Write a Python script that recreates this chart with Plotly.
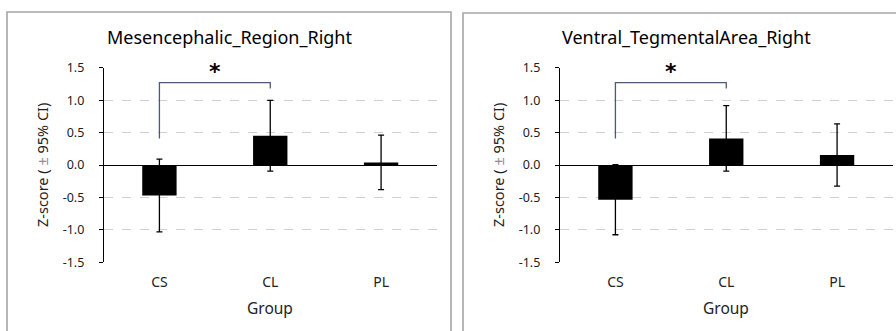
import plotly.graph_objects as go

W, H = 896, 331

groups = ["CS", "CL", "PL"]
titles = ["Mesencephalic_Region_Right", "Ventral_TegmentalArea_Right"]
means_left = [-0.47, 0.45, 0.04]
ci_left = [0.56, 0.545, 0.42]
means_right = [-0.535, 0.41, 0.155]
ci_right = [0.54, 0.505, 0.48]
bracket_y = [0.41, 1.27, 1.27, 1.18]
ytick_vals = [-1.5, -1.0, -0.5, 0.0, 0.5, 1.0, 1.5]
ytick_text = ["-1.5", "-1.0", "-0.5", "0.0", "0.5", "1.0", "1.5"]

FONT = "Noto Sans"

def px(x):
    return x / W

def py(y):
    return 1 - y / H

fig = go.Figure()

panels = [
    dict(means=means_left, ci=ci_left, xa="x", ya="y", xl=104, xr=436.5, box=(7, 12, 451, 340), tcx=230, ytx=42),
    dict(means=means_right, ci=ci_right, xa="x2", ya="y2", xl=560, xr=892.5, box=(463, 13, 910, 340), tcx=686, ytx=498),
]

for i, p in enumerate(panels):
    fig.add_trace(go.Bar(
        x=groups, y=p["means"], xaxis=p["xa"], yaxis=p["ya"],
        marker=dict(color="black", line=dict(width=0)),
        width=0.31,
        error_y=dict(type="data", array=p["ci"], visible=True, color="black", thickness=1.3, width=3),
        showlegend=False, hoverinfo="skip",
    ))
    fig.add_trace(go.Scatter(
        x=["CS", "CS", "CL", "CL"], y=bracket_y, xaxis=p["xa"], yaxis=p["ya"],
        mode="lines", line=dict(color="#4A5A78", width=1.3), showlegend=False, hoverinfo="skip",
    ))
    fig.add_annotation(x=0.5, y=1.44, xref=p["xa"], yref=p["ya"], text="<b>*</b>", showarrow=False,
                       font=dict(family="DejaVu Sans", size=22, color="black"), yanchor="middle")
    # panel border
    x0, y0, x1, y1 = p["box"]
    fig.add_shape(type="rect", xref="paper", yref="paper", x0=px(x0), x1=px(x1), y0=py(y1), y1=py(y0),
                  line=dict(color="#A6A6A6", width=1.6), fillcolor="rgba(0,0,0,0)")
    # title
    fig.add_annotation(x=px(p["tcx"]), y=py(37), xref="paper", yref="paper", text=titles[i], showarrow=False,
                       font=dict(family=FONT, size=18, color="black"), xanchor="center", yanchor="middle")
    # y title
    fig.add_annotation(x=px(p["ytx"]), y=py(165), xref="paper", yref="paper",
                       text="Z-score ( <span style='color:#8C8C8C'>±</span> 95% CI)", showarrow=False, textangle=-90,
                       font=dict(family=FONT, size=14.5, color="#222222"), xanchor="center", yanchor="middle")
    # x title
    fig.add_annotation(x=px((p["xl"] + p["xr"]) / 2), y=py(308), xref="paper", yref="paper", text="Group",
                       showarrow=False, font=dict(family=FONT, size=15.5, color="#222222"),
                       xanchor="center", yanchor="middle")

    axn = "" if i == 0 else "2"
    fig.update_layout(**{
        "xaxis" + axn: dict(
            domain=[px(p["xl"]), px(p["xr"])], anchor=p["ya"], type="category",
            range=[-0.5, 2.5], showline=False, showgrid=False, ticks="",
            tickfont=dict(family=FONT, size=14, color="#222222"), ticklabelstandoff=10,
            fixedrange=True, automargin=False,
        ),
        "yaxis" + axn: dict(
            domain=[py(262.3), py(67.7)], anchor=p["xa"], range=[-1.5, 1.5],
            tickvals=ytick_vals, ticktext=ytick_text,
            showline=True, linecolor="black", linewidth=1.3,
            ticks="outside", ticklen=4, tickcolor="black", tickwidth=1,
            showgrid=True, gridcolor="#D0D0D0", griddash="dash", gridwidth=1,
            zeroline=True, zerolinecolor="black", zerolinewidth=1.3,
            tickfont=dict(family=FONT, size=12.5, color="#222222"), ticklabelstandoff=12,
            fixedrange=True, automargin=False,
        ),
    })

fig.update_layout(
    width=W, height=H, margin=dict(l=0, r=0, t=0, b=0, autoexpand=False),
    paper_bgcolor="white", plot_bgcolor="white",
    bargap=0.69,
)

fig.write_html("out.html", config={"displayModeBar": False},
               post_script="document.body.style.margin='0';document.body.style.overflow='hidden';")
